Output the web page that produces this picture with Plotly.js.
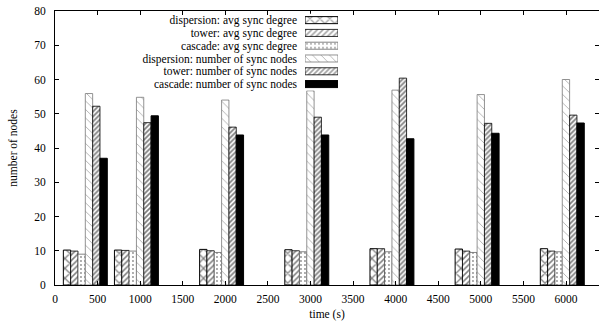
<!DOCTYPE html>
<html>
<head>
<meta charset="utf-8">
<script src="https://cdn.plot.ly/plotly-3.0.1.min.js"></script>
<style>html,body{margin:0;padding:0;background:#fff;}#chart{width:599px;height:326px;}</style>
</head>
<body>
<div id="chart"></div>
<script>
// ---- data ----
const times = [400, 1000, 2000, 3000, 4000, 5000, 6000];
const seriesNames = [
  "dispersion: avg sync degree",
  "tower: avg sync degree",
  "cascade: avg sync degree",
  "dispersion: number of sync nodes",
  "tower: number of sync nodes",
  "cascade: number of sync nodes"
];
const dispersionAvgDegree = [10.2, 10.2, 10.4, 10.3, 10.6, 10.5, 10.6];
const towerAvgDegree      = [9.9, 10.1, 10.0, 10.0, 10.6, 9.9, 9.9];
const cascadeAvgDegree    = [9.0, 9.9, 9.5, 9.7, 9.7, 9.5, 9.7];
const dispersionNodes     = [55.9, 54.8, 54.0, 56.7, 56.9, 55.6, 60.0];
const towerNodes          = [52.2, 47.4, 46.1, 49.0, 60.4, 47.2, 49.6];
const cascadeNodes        = [37.0, 49.4, 43.8, 43.8, 42.7, 44.3, 47.3];
const seriesValues = [dispersionAvgDegree, towerAvgDegree, cascadeAvgDegree,
                      dispersionNodes, towerNodes, cascadeNodes];

// ---- styles ----
const styles = [
  {shape: "x",  size: 7, solidity: 0.32, fg: "#000", bg: "#fff", color: "#fff", line: "#000", lw: 1},
  {shape: "/",  size: 4, solidity: 0.38, fg: "#000", bg: "#fff", color: "#fff", line: "#000", lw: 0.8},
  {shape: ".",  size: 4, solidity: 0.18, fg: "#222", bg: "#fff", color: "#fff", line: "#666", lw: 0.8},
  {shape: "\\", size: 6, solidity: 0.12, fg: "#333", bg: "#fff", color: "#fff", line: "#777", lw: 0.8},
  {shape: "/",  size: 3.5, solidity: 0.5, fg: "#000", bg: "#fff", color: "#fff", line: "#000", lw: 0.8},
  {shape: "",   size: 4, solidity: 0.3, fg: "#000", bg: "#000", color: "#000", line: "#000", lw: 1}
];
const barW = 86, firstOffset = -302;
const font = "Liberation Serif, Times New Roman, serif";

const traces = seriesValues.map((vals, i) => ({
  type: "bar",
  name: seriesNames[i],
  x: times,
  y: vals,
  width: barW,
  offset: firstOffset + i * barW,
  xaxis: "x", yaxis: "y",
  showlegend: false,
  hoverinfo: "skip",
  marker: {
    color: styles[i].color,
    line: {color: styles[i].line, width: styles[i].lw},
    pattern: styles[i].shape ? {shape: styles[i].shape, size: styles[i].size, solidity: styles[i].solidity,
              fgcolor: styles[i].fg, bgcolor: styles[i].bg, fillmode: "overlay"} : undefined
  }
}));

// legend drawn as a small horizontal bar subplot
traces.push({
  type: "bar",
  orientation: "h",
  y: seriesNames,
  x: seriesNames.map(() => 1),
  xaxis: "x2", yaxis: "y2",
  width: 0.55,
  showlegend: false,
  hoverinfo: "skip",
  marker: {
    color: styles.map(s => s.color),
    line: {color: styles.map(s => s.line), width: styles.map(s => s.lw)},
    pattern: {
      shape: styles.map(s => s.shape),
      size: styles.map(s => s.size),
      solidity: styles.map(s => s.solidity),
      fgcolor: styles.map(s => s.fg),
      bgcolor: styles.map(s => s.bg),
      fillmode: "overlay"
    }
  }
});

const layout = {
  width: 599, height: 326,
  margin: {l: 55, r: 0, t: 11, b: 41},
  paper_bgcolor: "#fff", plot_bgcolor: "#fff",
  barmode: "overlay",
  showlegend: false,
  font: {family: font, size: 11.5, color: "#000"},
  xaxis: {
    range: [0, 6387], tick0: 0, dtick: 500,
    showline: true, linecolor: "#000", linewidth: 1, mirror: "ticks",
    ticks: "inside", ticklen: 4, tickcolor: "#000",
    showgrid: false, zeroline: false,
    ticklabelstandoff: 3,
    tickfont: {family: font, size: 11.5, color: "#000"},
    title: {text: "time (s)", font: {family: font, size: 11.5, color: "#000"}, standoff: 6}
  },
  yaxis: {
    range: [0, 80], dtick: 10,
    showline: true, linecolor: "#000", linewidth: 1, mirror: "ticks",
    ticks: "inside", ticklen: 4, tickcolor: "#000",
    showgrid: false, zeroline: false,
    ticklabelstandoff: 6,
    tickfont: {family: font, size: 11.5, color: "#000"},
    title: {text: "number of nodes", font: {family: font, size: 11.5, color: "#000"}, standoff: 14}
  },
  xaxis2: {
    domain: [0.4596, 0.5202], range: [0, 1], anchor: "y2",
    visible: false, fixedrange: true
  },
  yaxis2: {
    domain: [0.71, 0.99], anchor: "x2", type: "category",
    autorange: "reversed",
    tickmode: "array", tickvals: seriesNames, ticktext: seriesNames,
    showline: false, showgrid: false, zeroline: false, ticks: "",
    ticklabelstandoff: 7,
    tickfont: {family: font, size: 11.5, color: "#000"}
  }
};

Plotly.newPlot("chart", traces, layout, {staticPlot: true, displayModeBar: false});
</script>
</body>
</html>
